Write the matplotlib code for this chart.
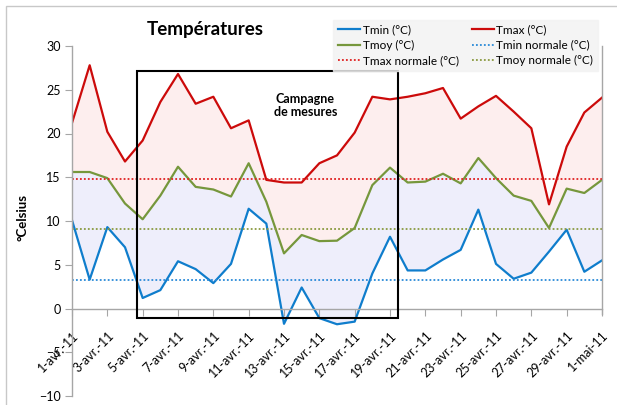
import matplotlib
matplotlib.use('Agg')
import matplotlib.pyplot as plt
from matplotlib.patches import Rectangle
import numpy as np

plt.rcParams['font.family'] = ['Lato', 'DejaVu Sans']

# one label per day, 1 april -> 1 may 2011
dates = [f'{d}-avr.-11' for d in range(1, 31)] + ['1-mai-11']

tmin = [10.1, 3.3, 9.3, 7.0, 1.2, 2.1, 5.4, 4.5, 2.9, 5.1, 11.4, 9.7, -1.75, 2.4, -1.1, -1.8,
        -1.5, 4.0, 8.2, 4.35, 4.35, 5.6, 6.7, 11.3, 5.1, 3.4, 4.1, 6.5, 9.0, 4.2, 5.5]
tmax = [21.2, 27.8, 20.2, 16.8, 19.2, 23.6, 26.8, 23.4, 24.2, 20.6, 21.5, 14.7, 14.4, 14.4, 16.6, 17.5,
        20.1, 24.2, 23.9, 24.2, 24.6, 25.2, 21.7, 23.1, 24.3, 22.5, 20.6, 11.9, 18.5, 22.4, 24.1]
tmoy = [15.6, 15.6, 14.9, 12.0, 10.2, 12.9, 16.2, 13.9, 13.6, 12.8, 16.6, 12.2, 6.3, 8.4, 7.7, 7.75,
        9.2, 14.1, 16.1, 14.4, 14.5, 15.4, 14.3, 17.2, 14.9, 12.9, 12.3, 9.2, 13.7, 13.2, 14.7]
tmin_normale = 3.25
tmax_normale = 14.85
tmoy_normale = 9.05

x = np.arange(1, len(dates) + 1)

fig = plt.figure(figsize=(6.17, 4.05), dpi=100)
ax = fig.add_axes([72/617, 1-396/405, 530/617, 350/405])

ax.fill_between(x, tmoy, tmax, color='#fdeeee', lw=0)
ax.fill_between(x, tmin, tmoy, color='#eeeefb', lw=0)

l_min, = ax.plot(x, tmin, color='#0f7dcc', lw=1.6, label='Tmin (°C)')
l_max, = ax.plot(x, tmax, color='#cc0a0a', lw=1.6, label='Tmax (°C)')
l_moy, = ax.plot(x, tmoy, color='#76973c', lw=1.6, label='Tmoy (°C)')
n_min = ax.axhline(tmin_normale, color='#2a8ad8', ls=(0, (1, 1.2)), lw=1.3, label='Tmin normale (°C)')
n_max = ax.axhline(tmax_normale, color='#e02020', ls=(0, (1, 1.2)), lw=1.3, label='Tmax normale (°C)')
n_moy = ax.axhline(tmoy_normale, color='#8a9a40', ls=(0, (1, 1.2)), lw=1.3, label='Tmoy normale (°C)')

# campagne de mesures box
ax.add_patch(Rectangle((4.66, -1.1), 19.43 - 4.66, 27.15 + 1.1, fill=False, ec='black', lw=1.5, zorder=5))
ax.text(14.2, 23.2, 'Campagne\nde mesures', ha='center', va='center', fontsize=9,
        fontweight='bold', linespacing=1.1)

# spine position first: moving it resets the tick labels
ax.spines['top'].set_visible(False)
ax.spines['bottom'].set_position(('data', 0))
ax.spines['right'].set_bounds(-0.6, 30)
for s in ['bottom', 'left', 'right']:
    ax.spines[s].set_color('#a6a6a6')
    ax.spines[s].set_linewidth(1)

ax.set_xlim(1, 31)
ax.set_ylim(-10, 30)
ax.set_yticks(range(-10, 31, 5))
ax.set_xticks(x[::2])
ax.set_xticklabels(dates[::2], rotation=45, ha='right', rotation_mode='anchor')
ax.tick_params(axis='y', length=5, color='#a6a6a6', labelsize=9, pad=3)
ax.tick_params(axis='x', length=5, color='#a6a6a6', labelsize=9, pad=10)

ax.set_ylabel('°Celsius', fontsize=9.5, fontweight='bold')
ax.yaxis.set_label_coords(-0.083, 0.51)

fig.text(205/617, 1-30/405, 'Températures', ha='center', va='center', fontsize=13.5, fontweight='bold')

handles = [l_min, l_moy, n_max, l_max, n_min, n_moy]
leg = fig.legend(handles=handles, ncol=2, loc='upper right', bbox_to_anchor=(604/617, 1-14/405),
                 fontsize=8.5, frameon=True, fancybox=False, handlelength=1.9, handletextpad=0.2,
                 columnspacing=1.1, labelspacing=0.35, borderpad=0.4)
leg.get_frame().set_facecolor('#f2f2f2')
leg.get_frame().set_edgecolor('#f2f2f2')

# outer chart frame
fig.add_artist(Rectangle((6/617, -0.5), 2, 1.5 - 6/405, transform=fig.transFigure,
                         fill=False, ec='#c8c8c8', lw=1))

fig.savefig('out.png', dpi=100)
